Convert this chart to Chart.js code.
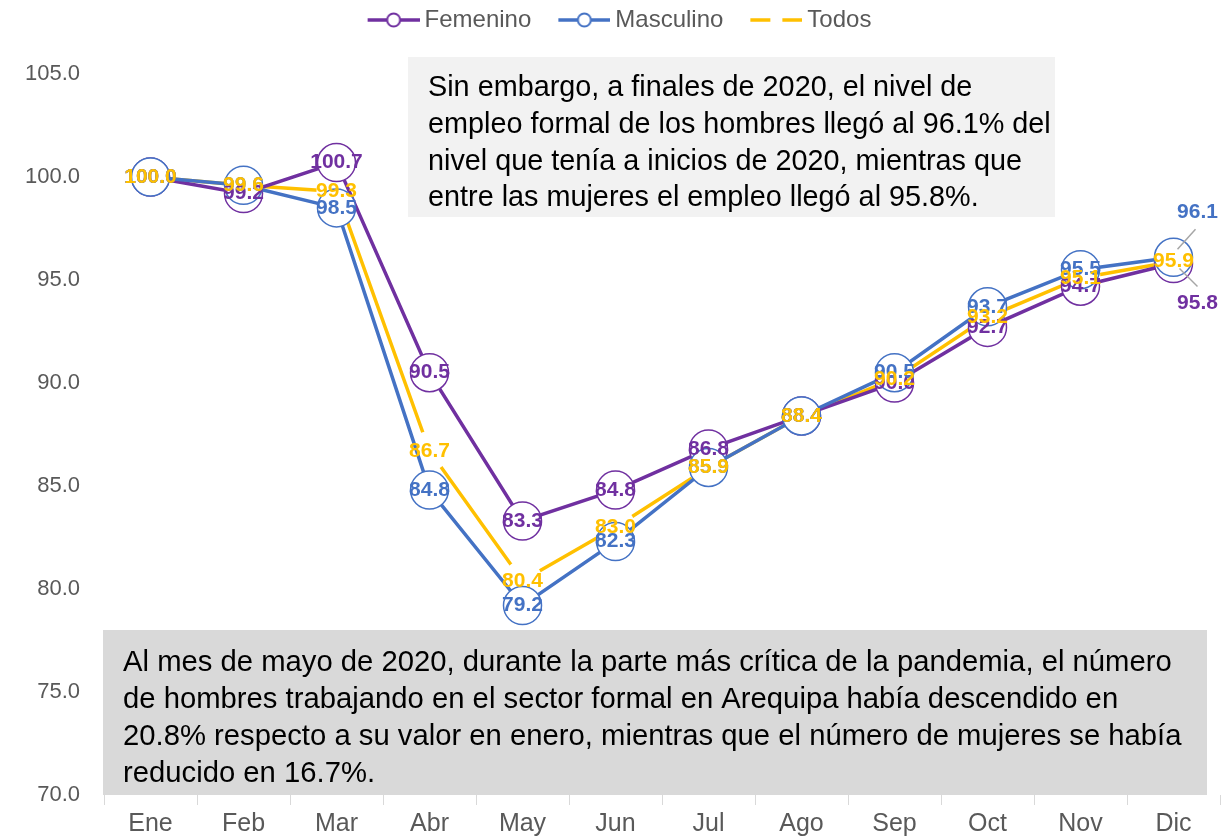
<!DOCTYPE html>
<html>
<head>
<meta charset="utf-8">
<script src="https://cdn.jsdelivr.net/npm/chart.js@4.4.1/dist/chart.umd.min.js"></script>
<style>
  html, body { margin: 0; padding: 0; background: #ffffff; }
  #contenedor { width: 1222px; height: 836px; }
</style>
</head>
<body>
<div id="contenedor"><canvas id="grafico"></canvas></div>
<script>
// Datos (índice enero 2020 = 100)
const meses = ["Ene", "Feb", "Mar", "Abr", "May", "Jun", "Jul", "Ago", "Sep", "Oct", "Nov", "Dic"];
const femenino = [100.0, 99.2, 100.7, 90.5, 83.3, 84.8, 86.8, 88.4, 90.0, 92.7, 94.7, 95.8];
const masculino = [100.0, 99.6, 98.5, 84.8, 79.2, 82.3, 85.9, 88.4, 90.5, 93.7, 95.5, 96.1];
const todos = [100.0, 99.6, 99.3, 86.7, 80.4, 83.0, 85.9, 88.4, 90.2, 93.2, 95.1, 95.9];

const textoSuperior = [
    "Sin embargo, a finales de 2020, el nivel de",
    "empleo formal de los hombres llegó al 96.1% del",
    "nivel que tenía a inicios de 2020, mientras que",
    "entre las mujeres el empleo llegó al 95.8%.",
];
const textoInferior = [
    "Al mes de mayo de 2020, durante la parte más crítica de la pandemia, el número",
    "de hombres trabajando en el sector formal en Arequipa había descendido en",
    "20.8% respecto a su valor en enero, mientras que el número de mujeres se había",
    "reducido en 16.7%.",
];

const colores = { femenino: "#7030A0", masculino: "#4472C4", todos: "#FFC000" };
const fuente = "'Liberation Sans', Arial, sans-serif";

// etiquetas de diciembre desplazadas con línea guía
const desplazamientos = {
    0: { 11: { dx: 24, dy: 40, guia: [6, 5, 24, 23] } },
    1: { 11: { dx: 24, dy: -45, guia: [4, -8, 22, -28] } },
};

// icono de leyenda: margen transparente a la izquierda para separar items
function iconoLeyenda(color, conMarcador) {
    const c = document.createElement("canvas");
    const m = 26;
    c.width = m + 52;
    c.height = 20;
    const g = c.getContext("2d");
    g.strokeStyle = color;
    g.lineWidth = 3.5;
    g.beginPath();
    if (conMarcador) {
        g.moveTo(m, 10);
        g.lineTo(m + 52, 10);
        g.stroke();
        g.beginPath();
        g.arc(m + 26, 10, 6.5, 0, Math.PI * 2);
        g.fillStyle = "#ffffff";
        g.fill();
        g.lineWidth = 2;
        g.stroke();
    } else {
        g.moveTo(m, 10);
        g.lineTo(m + 20, 10);
        g.moveTo(m + 32, 10);
        g.lineTo(m + 52, 10);
        g.stroke();
    }
    return c;
}

const iconos = [
    iconoLeyenda(colores.femenino, true),
    iconoLeyenda(colores.masculino, true),
    iconoLeyenda(colores.todos, false),
];

const etiquetasValores = {
    id: "etiquetasValores",
    afterDatasetsDraw(chart) {
        const ctx = chart.ctx;
        ctx.save();
        ctx.font = "bold 21px " + fuente;
        ctx.textAlign = "center";
        ctx.textBaseline = "middle";
        chart.data.datasets.forEach((ds, i) => {
            const meta = chart.getDatasetMeta(i);
            meta.data.forEach((pt, j) => {
                let x = pt.x, y = pt.y;
                const d = desplazamientos[i] && desplazamientos[i][j];
                if (d) {
                    ctx.strokeStyle = "#A6A6A6";
                    ctx.lineWidth = 1.5;
                    ctx.beginPath();
                    ctx.moveTo(x + d.guia[0], y + d.guia[1]);
                    ctx.lineTo(x + d.guia[2], y + d.guia[3]);
                    ctx.stroke();
                    x += d.dx;
                    y += d.dy;
                }
                ctx.fillStyle = ds.borderColor;
                ctx.fillText(ds.data[j].toFixed(1), x, y);
            });
        });
        ctx.restore();
    },
};

function escribirLineas(ctx, lineas, x, y0, paso, escala) {
    lineas.forEach((t, k) => {
        ctx.save();
        ctx.translate(x, y0 + k * paso);
        ctx.scale(escala, 1);
        ctx.fillText(t, 0, 0);
        ctx.restore();
    });
}

const cuadrosTexto = {
    id: "cuadrosTexto",
    afterDraw(chart) {
        const ctx = chart.ctx;
        ctx.save();
        ctx.font = "30px " + fuente;
        ctx.textBaseline = "middle";
        ctx.textAlign = "left";

        ctx.fillStyle = "#F2F2F2";
        ctx.fillRect(408, 57, 647, 160);
        ctx.fillStyle = "#000000";
        escribirLineas(ctx, textoSuperior, 428, 88, 36.7, 0.96);

        ctx.fillStyle = "#D9D9D9";
        ctx.fillRect(103, 630, 1104, 165);
        ctx.fillStyle = "#000000";
        escribirLineas(ctx, textoInferior, 123, 663, 36.8, 0.975);
        ctx.restore();
    },
};

const ctx = document.getElementById("grafico").getContext("2d");
const grafico = new Chart(ctx, {
    type: "line",
    data: {
        labels: meses,
        datasets: [
            {
                label: "Femenino",
                data: femenino,
                borderColor: colores.femenino,
                borderWidth: 3.5,
                pointRadius: 19,
                pointBorderWidth: 1.5,
                pointBackgroundColor: "#ffffff",
                pointBorderColor: colores.femenino,
                tension: 0,
                order: 2,
            },
            {
                label: "Masculino",
                data: masculino,
                borderColor: colores.masculino,
                borderWidth: 3.5,
                pointRadius: 19,
                pointBorderWidth: 1.5,
                pointBackgroundColor: "#ffffff",
                pointBorderColor: colores.masculino,
                tension: 0,
                order: 1,
            },
            {
                label: "Todos",
                data: todos,
                borderColor: colores.todos,
                borderWidth: 3.5,
                pointRadius: 20,
                pointBorderWidth: 0,
                pointBackgroundColor: "#ffffff",
                pointBorderColor: "#ffffff",
                tension: 0,
                order: 3,
            },
        ],
    },
    options: {
        responsive: true,
        maintainAspectRatio: false,
        animation: false,
        layout: { autoPadding: false, padding: { left: 0, right: 2, top: 0, bottom: 0 } },
        plugins: {
            legend: {
                position: "top",
                labels: {
                    usePointStyle: true,
                    pointStyleWidth: 64,
                    padding: 8,
                    color: "#595959",
                    font: { family: fuente, size: 24 },
                    generateLabels: (chart) =>
                        chart.data.datasets.map((ds, i) => ({
                            text: ds.label,
                            pointStyle: iconos[i],
                            fillStyle: ds.borderColor,
                            strokeStyle: ds.borderColor,
                            lineWidth: 0,
                            hidden: false,
                            datasetIndex: i,
                            fontColor: "#595959",
                        })),
                },
            },
            // separador vacío entre la leyenda y el área del gráfico
            subtitle: {
                display: true,
                text: " ",
                weight: 500,
                font: { size: 10, lineHeight: 1.2 },
                padding: { top: 0, bottom: 20 },
            },
            tooltip: { enabled: false },
        },
        scales: {
            x: {
                offset: true,
                grid: {
                    offset: true,
                    drawOnChartArea: false,
                    drawTicks: true,
                    tickLength: 10,
                    color: "#D9D9D9",
                },
                border: { display: false },
                ticks: { color: "#595959", font: { family: fuente, size: 25 }, padding: 4 },
                afterFit: (s) => {
                    s.paddingLeft = 0;
                    s.paddingRight = 0;
                    s.height = 41;
                },
            },
            y: {
                min: 70,
                max: 105,
                grid: { display: false, drawTicks: false },
                border: { display: false },
                ticks: {
                    stepSize: 5,
                    color: "#595959",
                    padding: 24,
                    font: { family: fuente, size: 22 },
                    callback: (v) => v.toFixed(1),
                },
                afterFit: (s) => {
                    s.width = 104;
                    s.paddingTop = 0;
                    s.paddingBottom = 0;
                },
            },
        },
    },
    plugins: [etiquetasValores, cuadrosTexto],
});
</script>
</body>
</html>
